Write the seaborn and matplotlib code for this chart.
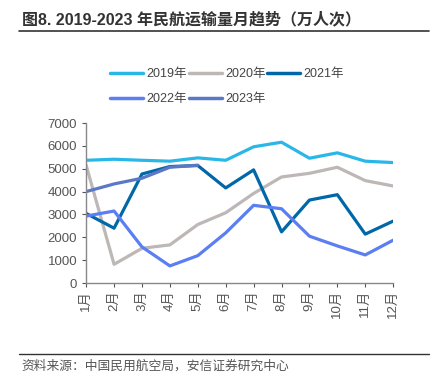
import pandas as pd
import matplotlib.pyplot as plt
import seaborn as sns

months = [f"{i}月" for i in range(1, 13)]
v2019 = [5370, 5415, 5370, 5330, 5475, 5370, 5960, 6160, 5460, 5695, 5330, 5270]
v2020 = [5150, 820, 1520, 1670, 2560, 3075, 3920, 4640, 4800, 5065, 4480, 4245]
v2021 = [3045, 2400, 4770, 5095, 5140, 4160, 4950, 2240, 3630, 3865, 2140, 2710]
v2022 = [2930, 3150, 1580, 750, 1200, 2195, 3400, 3250, 2050, 1625, 1230, 1875]
v2023 = [4000, 4335, 4585, 5065, 5155]
years = ["2019年", "2020年", "2021年", "2022年", "2023年"]
colors = ["#2ab7e8", "#bdb7b6", "#0068a8", "#5b7ef2", "#5b78c6"]

rows = []
for y, vals in zip(years, [v2019, v2020, v2021, v2022, v2023]):
    for m, v in zip(months, vals):
        rows.append({"month": m, "year": y, "value": v})
df = pd.DataFrame(rows)
df["x"] = df["month"].map({m: i for i, m in enumerate(months)})

sns.set_style("white")
plt.rcParams["font.family"] = ["Liberation Sans", "Noto Sans CJK SC", "DejaVu Sans"]

fig = plt.figure(figsize=(4.33, 3.82), dpi=100)
ax = fig.add_axes([0.199, 0.259, 0.709, 0.419])
sns.lineplot(data=df, x="x", y="value", hue="year", palette=dict(zip(years, colors)),
             linewidth=2.3, ax=ax, legend=False)

ax.set_xlim(0, 11)
ax.set_ylim(0, 7000)
ax.set_yticks(range(0, 7001, 1000))
ax.set_xticks(range(12))
ax.set_xticklabels(months, rotation=90)
ax.set_xlabel("")
ax.set_ylabel("")
ax.tick_params(axis="both", labelsize=9.5, colors="#555555", length=3, width=0.8, direction="out")
ax.tick_params(axis="x", pad=2)
for s in ["top", "right"]:
    ax.spines[s].set_visible(False)
for s in ["left", "bottom"]:
    ax.spines[s].set_color("#888888")
    ax.spines[s].set_linewidth(1.0)
ax.xaxis.set_ticks_position("bottom")
ax.yaxis.set_ticks_position("left")

# legend: row 1 = 2019/2020/2021, row 2 = 2022/2023
handles = {y: plt.Line2D([], [], color=c, linewidth=2.5) for y, c in zip(years, colors)}
order = ["2019年", "2022年", "2020年", "2023年", "2021年"]
fig.legend([handles[y] for y in order], order, ncol=3, frameon=False,
           loc="upper left", bbox_to_anchor=(0.254, 0.822), fontsize=9,
           borderpad=0, borderaxespad=0,
           handlelength=2.65, handletextpad=0.25, columnspacing=0.15,
           labelspacing=1.05, labelcolor="#444444")

fig.text(0.05, 0.935, "图8. 2019-2023 年民航运输量月趋势（万人次）", fontsize=11.5,
         fontweight="bold", color="#333333")
fig.add_artist(plt.Line2D([0.045, 0.99], [0.918, 0.918], color="#333333", linewidth=1.2))
fig.add_artist(plt.Line2D([0.045, 0.99], [0.072, 0.072], color="#333333", linewidth=1.0))
fig.text(0.05, 0.033, "资料来源：中国民用航空局，安信证券研究中心", fontsize=9.2,
         color="#555555", style="italic")

fig.savefig("out.png", dpi=100)
